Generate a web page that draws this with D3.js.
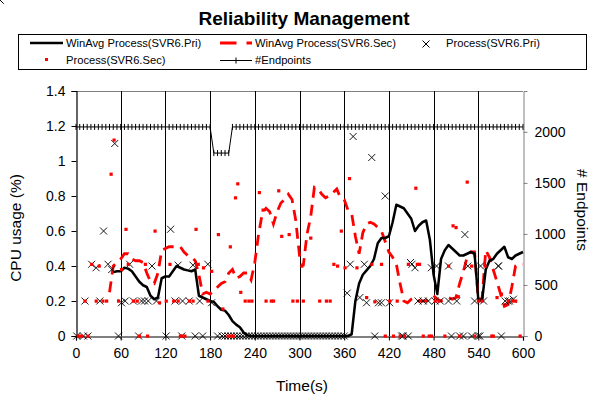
<!DOCTYPE html>
<html><head><meta charset="utf-8">
<script src="https://cdn.jsdelivr.net/npm/d3@7"></script>
<style>
body{margin:0;background:#fff;}
text{font-family:"Liberation Sans",Arial,sans-serif;}
</style></head>
<body><svg id="c" width="590" height="394"></svg>
<script>
const xTicks=[0,60,120,180,240,300,360,420,480,540,600];
const yTicks=[0,0.2,0.4,0.6,0.8,1,1.2,1.4];
const rTicks=[0,500,1000,1500,2000];

const priAvgT=[50,55,60,65,70,75,80,85,90,95,100,105,110,115,120,125,130,135,140,145,150,155,160,165,170,175,180,185,190,195,200,205,210,215,220,225,230,235,240,245,250,255,260,265,270,275,280,285,290,295,300,305,310,315,320,325,330,335,340,345,350,355,360,365,370,375,380,385,390,395,400,405,410,415,420,425,430,435,440,445,450,455,460,465,470,475,480,485,490,495,500,505,510,515,520,525,530,535,540,545,550,555,560,565,570,575,580,585,590,595,600];
const priAvgV=[0.365,0.37,0.37,0.39,0.385,0.37,0.34,0.31,0.29,0.28,0.23,0.21,0.22,0.33,0.34,0.34,0.37,0.40,0.39,0.38,0.375,0.37,0.38,0.23,0.22,0.21,0.20,0.195,0.17,0.15,0.145,0.12,0.085,0.065,0.05,0.02,0.005,0,0,0,0,0,0,0,0,0,0,0,0,0,0,0,0,0,0,0,0,0,0,0,0,0,0,0,0.01,0.2,0.30,0.35,0.375,0.40,0.44,0.53,0.56,0.56,0.57,0.65,0.75,0.74,0.73,0.70,0.67,0.60,0.63,0.65,0.66,0.55,0.35,0.24,0.44,0.49,0.52,0.50,0.48,0.46,0.46,0.47,0.48,0.47,0.21,0.20,0.38,0.43,0.44,0.47,0.49,0.51,0.45,0.44,0.46,0.47,0.48];

const secAvgT=[45,50,55,60,65,70,75,80,85,90,95,100,105,110,115,120,125,130,135,140,145,150,155,160,165,170,175,180,185,190,195,200,205,210,215,220,225,230,235,240,245,250,255,260,265,270,275,280,285,290,295,300,305,310,315,320,325,330,335,340,345,350,355,360,365,370,375,380,385,390,395,400,405,410,415,420,425,430,435,440,445,450,455,460,465,470,475,480,485,490,495,500,505,510,515,520,525,530,535,540,545,550,555,560,565,570,575,580,585,590,595,600];
const secAvgV=[0.25,0.40,0.42,0.44,0.47,0.47,0.44,0.43,0.43,0.42,0.36,0.31,0.30,0.36,0.49,0.50,0.51,0.51,0.51,0.51,0.48,0.46,0.45,0.43,0.35,0.24,0.25,0.24,0.26,0.28,0.30,0.31,0.36,0.38,0.33,0.34,0.36,0.36,0.32,0.42,0.58,0.70,0.73,0.71,0.64,0.71,0.76,0.78,0.81,0.78,0.66,0.46,0.40,0.58,0.68,0.85,0.84,0.81,0.79,0.80,0.82,0.84,0.79,0.78,0.72,0.70,0.57,0.47,0.59,0.64,0.65,0.64,0.62,0.60,0.54,0.48,0.45,0.41,0.30,0.20,0.19,0.21,0.22,0.20,0.20,0.20,0.22,0.23,0.21,0.20,0.21,0.22,0.21,0.22,0.30,0.37,0.45,0.48,0.48,0.21,0.21,0.49,0.45,0.38,0.31,0.24,0.17,0.18,0.28,0.40,0.41,0.41];

const priT=[1,10,16,12,21,27,32,37,43,48,52,57,61,66,72,77,84,88,92,97,102,108,121,127,133,137,143,142,152,157,160,166,170,177,182,190,196,200,
204,208,212,216,220,224,228,232,236,240,244,248,252,256,260,264,268,272,276,280,284,288,292,296,300,304,308,312,316,320,324,328,332,336,340,344,348,352,356,360,364,368,
372,381,387,390,397,401,406,410,415,421,437,439,446,449,451,455,459,466,473,477,482,484,489,500,500,504,511,515,520,522,526,531,535,540,542,543,547,567,567,571,576,580,582,587,591,595];
const priV=[0,0,0,0.2,0.41,0.39,0.2,0.6,0.41,0.38,1.1,0,0.19,0.2,0.41,0.2,0,0.2,0.2,0.2,0.4,0.2,0,0.61,0.2,0.405,0.2,0,0.2,0.405,0,0.2,0,0.41,0.19,0,0,0,
0,0,0,0,0,0,0,0,0,0,0,0,0,0,0,0,0,0,0,0,0,0,0,0,0,0,0,0,0,0,0,0,0,0,0,0,0,0,0,0,
0.245,0.41,1.14,0.22,0.41,0.19,1.02,0,0.19,0.19,0.8,0.19,0,0,0,0.42,0.41,0.39,0.2,0.2,0.2,0.39,0.2,0.4,0.2,0.2,0.4,0,0.2,0,0,0.58,0.4,0,0.2,0,0,0.4,0.2,0.4,0.4,0,0.2,0.2,0.2,0.21];

const secT=[3,7,16,12,21,27,31,36,41,47,51,57,61,67,70,77,82,85,93,96,106,112,121,126,131,137,140,142,146,152,157,161,164,171,177,182,191,197,204,208,211,207,214,217,221,227,232,236,246,251,255,262,265,272,276,286,291,297,305,303,315,327,336,341,346,351,356,361,367,377,390,397,401,410,415,421,426,431,435,441,446,456,458,461,466,474,477,482,487,495,500,506,510,513,515,525,531,535,540,545,549,558,560,565,571,580,586,590,596];
const secV=[0,0,0,0.2,0.41,0.2,0.4,0.2,0.2,0.925,1.12,0.2,0.38,0.61,0.41,0.2,0.2,0,0.41,0,0.6,0.19,0.2,0.41,0.2,0.2,0,0,0,0.2,0.2,0.61,0.41,0.39,0.2,0.37,0.58,0.155,0,0,0,0.51,0.79,0.87,0.25,0.2,0.2,0.2,0.82,0.72,0.2,0.2,0.2,0.83,0.57,0.58,0.2,0.2,0.2,0.4,0.56,0.2,0.2,0.2,0.41,0.4,0.6,0.39,0.9,0.39,0.22,0.41,0.196,0.41,0,0.2,0,0.2,0,0,0.41,0.845,0.41,0.41,0,0,0,0.2,0.2,0,0.4,0.63,0.62,0.225,0,0.88,0.4,0,0.2,0.2,0.4,0,0,0.22,0.24,0.2,0.2,0.2,0];

const epT=[0,5,10,15,20,25,30,35,40,45,50,55,60,65,70,75,80,85,90,95,100,105,110,115,120,125,130,135,140,145,150,155,160,165,170,175,180,185,190,195,200,205,210,215,220,225,230,235,240,245,250,255,260,265,270,275,280,285,290,295,300,305,310,315,320,325,330,335,340,345,350,355,360,365,370,375,380,385,390,395,400,405,410,415,420,425,430,435,440,445,450,455,460,465,470,475,480,485,490,495,500,505,510,515,520,525,530,535,540,545,550,555,560,565,570,575,580,585,590,595,600];
const epV=[2048,2048,2048,2048,2048,2048,2048,2048,2048,2048,2048,2048,2048,2048,2048,2048,2048,2048,2048,2048,2048,2048,2048,2048,2048,2048,2048,2048,2048,2048,2048,2048,2048,2048,2048,2048,2048,1792,1792,1792,1792,1792,2048,2048,2048,2048,2048,2048,2048,2048,2048,2048,2048,2048,2048,2048,2048,2048,2048,2048,2048,2048,2048,2048,2048,2048,2048,2048,2048,2048,2048,2048,2048,2048,2048,2048,2048,2048,2048,2048,2048,2048,2048,2048,2048,2048,2048,2048,2048,2048,2048,2048,2048,2048,2048,2048,2048,2048,2048,2048,2048,2048,2048,2048,2048,2048,2048,2048,2048,2048,2048,2048,2048,2048,2048,2048,2048,2048,2048,2048,2048];

const svg=d3.select("#c");
const L=76,R=523,T=91,B=336;
const x=d3.scaleLinear().domain([0,600]).range([L,R]);
const y=d3.scaleLinear().domain([0,1.4]).range([B,T]);
const yR=d3.scaleLinear().domain([0,2400]).range([B,T]);

// title
svg.append("text").attr("x",304).attr("y",25).attr("text-anchor","middle")
  .attr("font-size",19).attr("font-weight","bold").text("Reliability Management");

// legend
const lg=svg.append("g");
lg.append("rect").attr("x",18.5).attr("y",34.5).attr("width",568).attr("height",35)
  .attr("fill","#fff").attr("stroke","#000").attr("stroke-width",1);
const lfs=11.2;
lg.append("line").attr("x1",30).attr("x2",63).attr("y1",43).attr("y2",43).attr("stroke","#000").attr("stroke-width",2.5);
lg.append("text").attr("x",66).attr("y",43).attr("dy","0.35em").attr("font-size",lfs).text("WinAvg Process(SVR6.Pri)");
lg.append("line").attr("x1",220).attr("x2",252).attr("y1",43).attr("y2",43).attr("stroke","#ff0000").attr("stroke-width",3).attr("stroke-dasharray","16.5,10");
lg.append("text").attr("x",255).attr("y",43).attr("dy","0.35em").attr("font-size",lfs).text("WinAvg Process(SVR6.Sec)");
lg.append("path").attr("transform","translate(426,44)").attr("d","M-3.5,-3.5L3.5,3.5M-3.5,3.5L3.5,-3.5").attr("stroke","#000").attr("fill","none");
lg.append("text").attr("x",446).attr("y",43).attr("dy","0.35em").attr("font-size",lfs).text("Process(SVR6.Pri)");
lg.append("rect").attr("x",45).attr("y",58).attr("width",3).attr("height",3).attr("fill","#ff0000");
lg.append("text").attr("x",66).attr("y",60).attr("dy","0.35em").attr("font-size",lfs).text("Process(SVR6.Sec)");
lg.append("line").attr("x1",220).attr("x2",252).attr("y1",60.5).attr("y2",60.5).attr("stroke","#000").attr("stroke-width",1);
lg.append("path").attr("transform","translate(236,60.5)").attr("d","M0,-3V3").attr("stroke","#000");
lg.append("text").attr("x",255).attr("y",60).attr("dy","0.35em").attr("font-size",lfs).text("#Endpoints");

// frame & grid
svg.append("line").attr("x1",L).attr("x2",R).attr("y1",T+0.5).attr("y2",T+0.5).attr("stroke","#808080");
svg.append("g").selectAll("line").data(xTicks.slice(1,-1)).join("line")
  .attr("x1",d=>Math.round(x(d))+0.5).attr("x2",d=>Math.round(x(d))+0.5)
  .attr("y1",T).attr("y2",B).attr("stroke","#000").attr("stroke-width",1);

// axes
const ax=svg.append("g").attr("transform",`translate(0,${B+0.5})`)
  .call(d3.axisBottom(x).tickValues(xTicks).tickSize(4).tickPadding(8).tickFormat(d3.format("d")));
const ay=svg.append("g").attr("transform",`translate(${L+0.5},0)`)
  .call(d3.axisLeft(y).tickValues(yTicks).tickSize(5).tickPadding(6).tickFormat(d3.format("~g")));
const ar=svg.append("g").attr("transform",`translate(${R+0.5},0)`)
  .call(d3.axisRight(yR).tickValues(rTicks).tickSize(4).tickPadding(7).tickFormat(d3.format("d")));
[ax,ay,ar].forEach(g=>{
  g.selectAll("text").attr("font-size",14).attr("fill","#000").attr("font-family","Liberation Sans,Arial,sans-serif");
  g.select(".domain").attr("stroke","#000");
  g.selectAll(".tick line").attr("stroke","#000");
});
ar.select(".domain").attr("stroke","#808080");
ar.selectAll(".tick line").attr("stroke","#808080");
ay.select(".domain").attr("stroke-width",1.2);
ax.select(".domain").attr("stroke-width",1.2);

svg.append("text").attr("x",302).attr("y",391).attr("text-anchor","middle").attr("font-size",15.5).text("Time(s)");
svg.append("text").attr("transform","translate(21,228) rotate(-90)").attr("text-anchor","middle").attr("font-size",15.5).text("CPU usage (%)");
svg.append("text").attr("transform","translate(577,210) rotate(90)").attr("text-anchor","middle").attr("font-size",15.5).text("# Endpoints");

// series
const secAvg=secAvgT.map((t,i)=>[t,secAvgV[i]]);
const priAvg=priAvgT.map((t,i)=>[t,priAvgV[i]]);
const ep=epT.map((t,i)=>[t,epV[i]]);
const line=d3.line().x(d=>x(d[0])).y(d=>y(d[1]));
const lineR=d3.line().x(d=>x(d[0])).y(d=>yR(d[1]));

svg.append("path").datum(secAvg).attr("d",line).attr("fill","none").attr("stroke","#ff0000")
  .attr("stroke-width",2.8).attr("stroke-dasharray","11,7");
svg.append("path").datum(priAvg).attr("d",line).attr("fill","none").attr("stroke","#000")
  .attr("stroke-width",2.5).attr("stroke-linejoin","round");

svg.append("g").selectAll("path").data(priT.map((t,i)=>[t,priV[i]])).join("path")
  .attr("transform",d=>`translate(${x(d[0])},${y(d[1])})`)
  .attr("d","M-3.5,-3.5L3.5,3.5M-3.5,3.5L3.5,-3.5").attr("stroke","#000").attr("stroke-width",0.9).attr("fill","none");
svg.append("g").selectAll("rect").data(secT.map((t,i)=>[t,secV[i]])).join("rect")
  .attr("x",d=>x(d[0])-1.5).attr("y",d=>y(d[1])-1.5).attr("width",3.2).attr("height",3.2).attr("fill","#ff0000");

svg.append("path").datum(ep).attr("d",lineR).attr("fill","none").attr("stroke","#000").attr("stroke-width",1);
svg.append("g").selectAll("path").data(ep).join("path")
  .attr("transform",d=>`translate(${x(d[0])},${yR(d[1])})`)
  .attr("d","M0,-3V3").attr("stroke","#000").attr("stroke-width",1);
</script></body></html>
